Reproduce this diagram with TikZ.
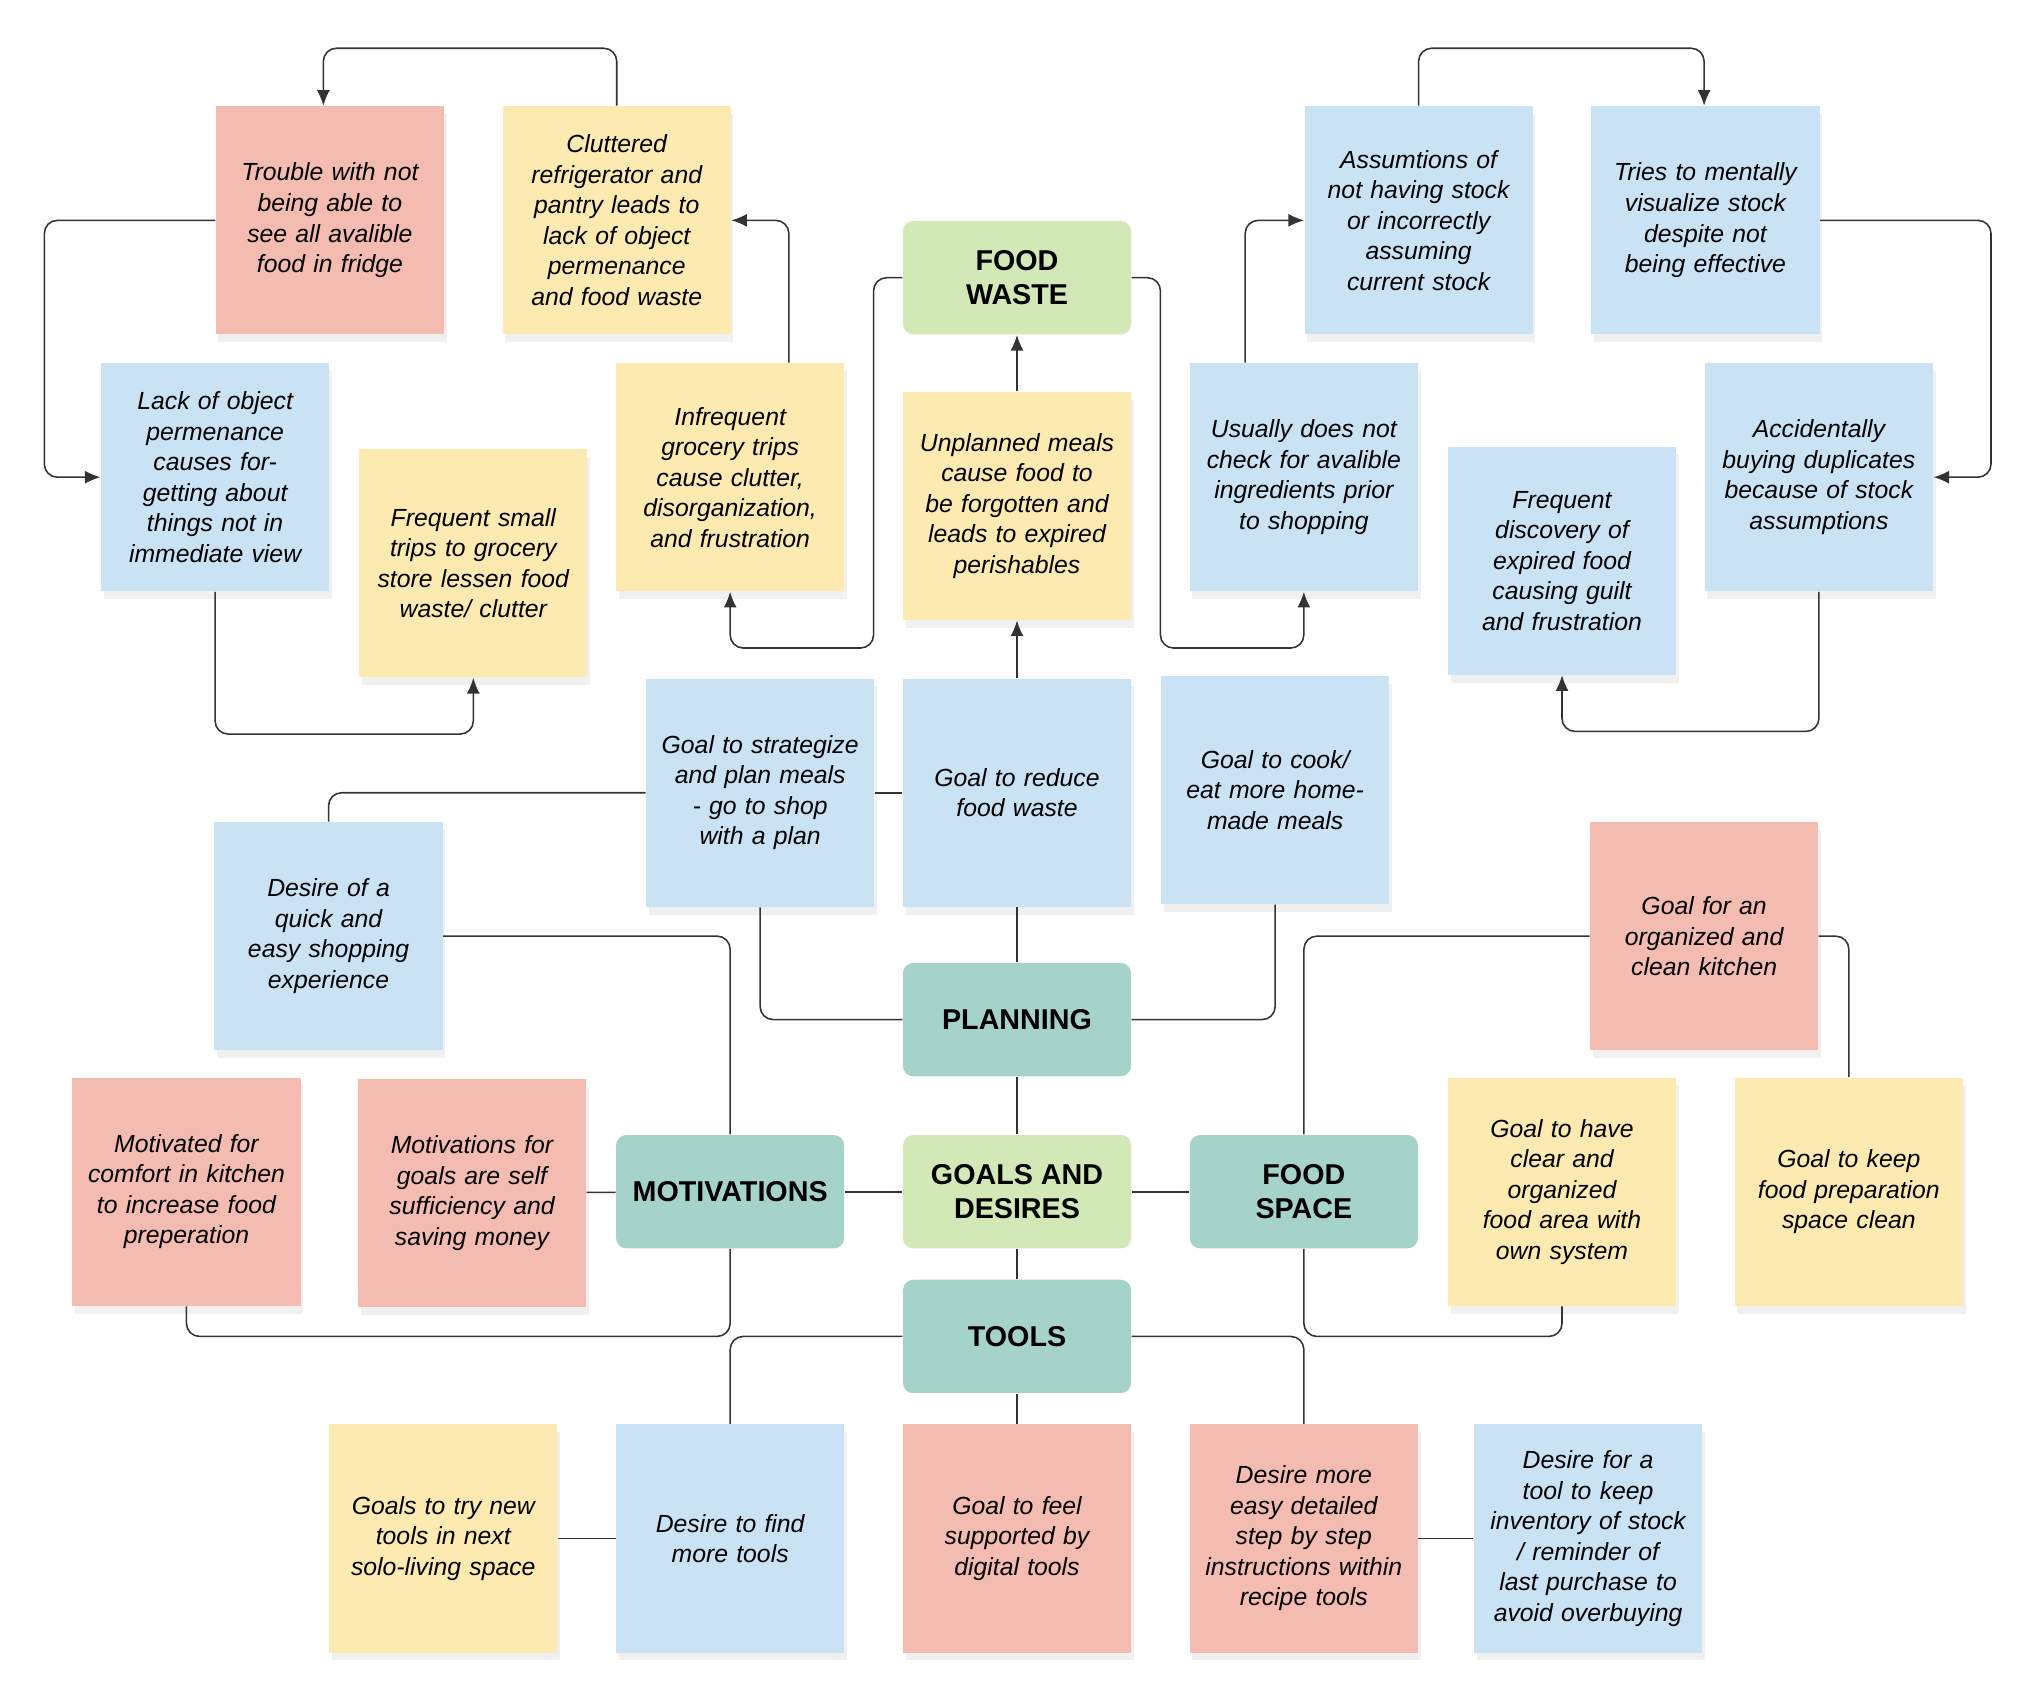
\documentclass[tikz,border=0pt]{standalone}
\usepackage{fontspec}
\setmainfont{Liberation Sans}
\usetikzlibrary{shadows,arrows.meta}
\definecolor{nred}{HTML}{F4BCB0}
\definecolor{nyellow}{HTML}{FCEAB0}
\definecolor{nblue}{HTML}{C9E2F4}
\definecolor{ngreen}{HTML}{D2E8B6}
\definecolor{nteal}{HTML}{A6D3C9}
\definecolor{wire}{HTML}{333333}
\tikzset{font=\fontsize{9.5}{11.7}\selectfont\itshape}
\tikzstyle{note}=[minimum width=87.5pt,minimum height=87.5pt,text width=76pt,align=center,inner sep=0pt,drop shadow={shadow xshift=1pt,shadow yshift=-3pt,opacity=0.12}]
\tikzstyle{hub}=[rounded corners=4pt,minimum width=87.5pt,minimum height=43.5pt,align=center,inner sep=0pt,font=\fontsize{11}{13}\selectfont\bfseries]
\tikzstyle{rednote}=[note,fill=nred]
\tikzstyle{yelnote}=[note,fill=nyellow]
\tikzstyle{blunote}=[note,fill=nblue]
\tikzstyle{link}=[draw=wire,line width=0.6pt,rounded corners=5pt]
\tikzstyle{arr}=[link,-{Latex[length=6pt,width=5pt]}]

\begin{document}
\begin{tikzpicture}[x=0.5pt,y=-0.5pt]
	\useasboundingbox (0,0) rectangle (1560,1300);
	% top notes
	\node [style=rednote] (trouble) at (253,169) {Trouble with not being able to see all avalible food in fridge};
	\node [style=yelnote] (clutter) at (473,169) {Cluttered refrigerator and pantry leads to lack of object permenance and food waste};
	\node [style=blunote] (assume) at (1088,169) {Assumtions of not having stock or incorrectly assuming current stock};
	\node [style=blunote] (visual) at (1308,169) {Tries to mentally visualize stock despite not being effective};
	\node [style=hub,fill=ngreen] (waste) at (780,213) {FOOD\\WASTE};
	\node [style=blunote] (lack) at (165,366) {Lack of object permenance causes forgetting about things not in immediate view};
	\node [style=yelnote] (small) at (363,432) {Frequent small trips to grocery store lessen food waste/ clutter};
	\node [style=yelnote] (infreq) at (560,366) {Infrequent grocery trips cause clutter, disorganization, and frustration};
	\node [style=yelnote] (unplan) at (780,388) {Unplanned meals cause food to be forgotten and leads to expired perishables};
	\node [style=blunote] (check) at (1000,366) {Usually does not check for avalible ingredients prior to shopping};
	\node [style=blunote] (expired) at (1198,430) {Frequent discovery of expired food causing guilt and frustration};
	\node [style=blunote] (dupl) at (1395,366) {Accidentally buying duplicates because of stock assumptions};
	% goals
	\node [style=blunote] (strat) at (583,608) {Goal to strategize and plan meals - go to shop with a plan};
	\node [style=blunote] (reduce) at (780,608) {Goal to reduce food waste};
	\node [style=blunote] (cook) at (978,606) {Goal to cook/ eat more homemade meals};
	\node [style=blunote] (quick) at (252,718) {Desire of a quick and easy shopping experience};
	\node [style=rednote] (organ) at (1307,718) {Goal for an organized and clean kitchen};
	\node [style=hub,fill=nteal] (plan) at (780,782) {PLANNING};
	\node [style=rednote] (comfort) at (143,914) {Motivated for comfort in kitchen to increase food preperation};
	\node [style=rednote] (self) at (362,915) {Motivations for goals are self sufficiency and saving money};
	\node [style=hub,fill=nteal] (motiv) at (560,914) {MOTIVATIONS};
	\node [style=hub,fill=ngreen] (goals) at (780,914) {GOALS AND\\DESIRES};
	\node [style=hub,fill=nteal] (space) at (1000,914) {FOOD\\SPACE};
	\node [style=yelnote] (clear) at (1198,914) {Goal to have clear and organized food area with own system};
	\node [style=yelnote] (keep) at (1418,914) {Goal to keep food preparation space clean};
	\node [style=hub,fill=nteal] (tools) at (780,1025) {TOOLS};
	% bottom notes
	\node [style=yelnote] (try) at (340,1180) {Goals to try new tools in next solo-living space};
	\node [style=blunote] (find) at (560,1180) {Desire to find more tools};
	\node [style=rednote] (digital) at (780,1180) {Goal to feel supported by digital tools};
	\node [style=rednote] (recipe) at (1000,1180) {Desire more easy detailed step by step instructions within recipe tools};
	\node [style=blunote] (invent) at (1218,1180) {Desire for a tool to keep inventory of stock / reminder of last purchase to avoid overbuying};
	% arrows
	\draw [style=arr] (clutter.north) |- (360,37) -| (trouble.north -| 248,0);
	\draw [style=arr] (trouble.west) -| (34,300) |- (lack.west);
	\draw [style=arr] (lack.south) |- (260,563) -| (small.south);
	\draw [style=arr] (infreq.north -| 605,0) |- (clutter.east);
	\draw [style=arr] (waste.west) -| (670,400) |- (610,497) -| (infreq.south);
	\draw [style=arr] (unplan) -- (waste);
	\draw [style=arr] (reduce) -- (unplan);
	\draw [style=arr] (waste.east) -| (890,400) |- (950,497) -| (check.south);
	\draw [style=arr] (check.north -| 955,0) |- (assume.west);
	\draw [style=arr] (assume.north) |- (1200,37) -| (visual.north -| 1307,0);
	\draw [style=arr] (visual.east) -| (1527,300) |- (dupl.east);
	\draw [style=arr] (dupl.south) |- (1300,561) -| (expired.south);
	% links
	\draw [style=link] (reduce) -- (strat);
	\draw [style=link] (strat.west) -| (quick.north);
	\draw [style=link] (reduce) -- (plan);
	\draw [style=link] (strat.south) |- (plan.west);
	\draw [style=link] (cook.south) |- (plan.east);
	\draw [style=link] (plan) -- (goals);
	\draw [style=link] (quick.east) -| (motiv.north);
	\draw [style=link] (motiv) -- (goals);
	\draw [style=link] (goals) -- (space);
	\draw [style=link] (self) -- (motiv);
	\draw [style=link] (motiv.south) |- (350,1025) -| (comfort.south);
	\draw [style=link] (organ.west) -| (space.north);
	\draw [style=link] (organ.east) -| (keep.north);
	\draw [style=link] (space.south) |- (1100,1025) -| (clear.south);
	\draw [style=link] (goals) -- (tools);
	\draw [style=link] (tools.west) -| (find.north);
	\draw [style=link] (tools.east) -| (recipe.north);
	\draw [style=link] (tools) -- (digital);
	\draw [style=link] (try) -- (find);
	\draw [style=link] (recipe) -- (invent);
\end{tikzpicture}
\end{document}
